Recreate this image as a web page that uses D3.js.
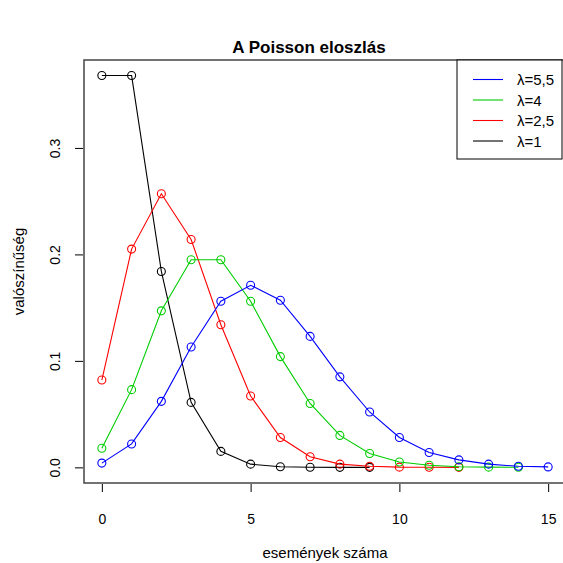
<!DOCTYPE html>
<html>
<head>
<meta charset="utf-8">
<script src="https://cdn.jsdelivr.net/npm/d3@7"></script>
<style>
  body { margin: 0; background: #fff; }
  text { font-family: "Liberation Sans", Arial, sans-serif; fill: #000; }
</style>
</head>
<body>
<script>
// adatok
var xTicks = [0, 5, 10, 15];
var yTicks = [0.0, 0.1, 0.2, 0.3];
var lambda1 = [0.368, 0.368, 0.184, 0.061, 0.015, 0.003, 0.0005, 0.0001, 0.00001, 0.000001];
var lambda25 = [0.082, 0.205, 0.257, 0.214, 0.134, 0.067, 0.028, 0.010, 0.003, 0.001, 0.0002, 0.00005, 0.00001];
var lambda4 = [0.018, 0.073, 0.147, 0.195, 0.195, 0.156, 0.104, 0.060, 0.030, 0.013, 0.005, 0.002, 0.0006, 0.0002, 0.00005];
var lambda55 = [0.004, 0.022, 0.062, 0.113, 0.156, 0.171, 0.157, 0.123, 0.085, 0.052, 0.028, 0.014, 0.007, 0.003, 0.001, 0.0004];
var seriesNames = ["λ=1", "λ=2,5", "λ=4", "λ=5,5"];
var seriesColors = ["#000000", "#ff0000", "#00cd00", "#0000ff"];

(function(){
var W = 563, H = 563;
var pLeft = 84, pTop = 60, pRight = 566, pBottom = 483;

var series = [lambda1, lambda25, lambda4, lambda55].map(function(v, i){
  return { name: seriesNames[i], color: seriesColors[i], values: v };
});

var x = d3.scaleLinear().domain([-0.6, 15.6]).range([pLeft, pRight]);
var y = d3.scaleLinear().domain([-0.0147, 0.3826]).range([pBottom, pTop]);

var svg = d3.select("body").append("svg")
  .attr("width", W).attr("height", H);

// vonalak + pontok
var line = d3.line()
  .x(function(d, i){ return x(i); })
  .y(function(d){ return y(d); });

series.forEach(function(s){
  var g = svg.append("g");
  g.append("path")
    .attr("d", line(s.values))
    .attr("fill", "none")
    .attr("stroke", s.color)
    .attr("stroke-width", 1.1);
  g.selectAll("circle")
    .data(s.values)
    .enter()
    .append("circle")
    .attr("cx", function(d, i){ return x(i); })
    .attr("cy", function(d){ return y(d); })
    .attr("r", 4)
    .attr("fill", "none")
    .attr("stroke", s.color)
    .attr("stroke-width", 1.1);
});

// keret
svg.append("rect")
  .attr("x", pLeft).attr("y", pTop)
  .attr("width", pRight - pLeft).attr("height", pBottom - pTop)
  .attr("fill", "none").attr("stroke", "#444").attr("stroke-width", 1.5);

// tengelyek
var xAxis = d3.axisBottom(x).tickValues(xTicks).tickSize(8).tickPadding(22).tickFormat(d3.format("d"));
var gx = svg.append("g").attr("transform", "translate(0," + (pBottom + 1) + ")").call(xAxis);
gx.select(".domain").remove();
gx.selectAll("text").style("font-size", "14px").style("font-family", "Liberation Sans, Arial, sans-serif").attr("fill", "#000");

var yAxis = d3.axisLeft(y).tickValues(yTicks).tickSize(8).tickFormat(d3.format(".1f"));
var gy = svg.append("g").attr("transform", "translate(" + (pLeft - 1) + ",0)").call(yAxis);
gy.select(".domain").remove();
gy.selectAll("text")
  .style("font-size", "14px").style("font-family", "Liberation Sans, Arial, sans-serif")
  .attr("fill", "#000")
  .attr("text-anchor", "middle")
  .attr("dy", 0)
  .attr("x", 0)
  .attr("transform", "translate(-23,0) rotate(-90)");

// címek
svg.append("text")
  .attr("x", 309).attr("y", 53)
  .attr("text-anchor", "middle")
  .style("font-size", "17px").style("font-weight", "bold")
  .text("A Poisson eloszlás");

svg.append("text")
  .attr("x", (pLeft + pRight) / 2).attr("y", 558)
  .attr("text-anchor", "middle")
  .style("font-size", "15px")
  .text("események száma");

svg.append("text")
  .attr("transform", "translate(24," + ((pTop + pBottom) / 2) + ") rotate(-90)")
  .attr("text-anchor", "middle")
  .style("font-size", "15px")
  .text("valószínűség");

// jelmagyarázat
var legend = svg.append("g");
legend.append("rect")
  .attr("x", 457).attr("y", pTop)
  .attr("width", 105).attr("height", 99)
  .attr("fill", "#fff").attr("stroke", "#000").attr("stroke-width", 1);

var legendData = series.slice().reverse();
legendData.forEach(function(s, i){
  var yy = 79.5 + i * 20.5;
  legend.append("line")
    .attr("x1", 473).attr("x2", 503)
    .attr("y1", yy).attr("y2", yy)
    .attr("stroke", s.color).attr("stroke-width", 1.1);
  legend.append("text")
    .attr("x", 517).attr("y", yy + 5.5)
    .style("font-size", "15px")
    .text(s.name);
});
})();
</script>
</body>
</html>
